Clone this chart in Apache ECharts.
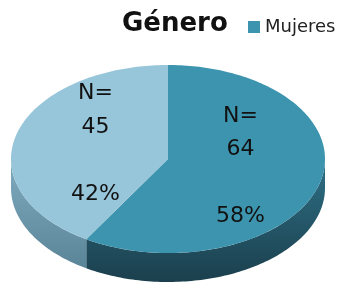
<!DOCTYPE html>
<html><head><meta charset="utf-8">
<script src="https://cdn.jsdelivr.net/npm/echarts@6/dist/echarts.min.js"></script>
<style>html,body{margin:0;padding:0;background:#fff}#c{width:342px;height:290px}</style>
</head><body><div id="c"></div>
<script>
const titleText = 'Género';
const categories = ['Mujeres', 'Hombres'];
const counts = [64, 45];
const percentLabels = ['58%', '42%'];
const legendItems = ['Mujeres'];

const topColors = ['#3d94ae', '#97c5d9'];
const sideColors = [['#2e7086', '#1b3f4d'], ['#80acc0', '#5a8498']];

const total = counts.reduce((a, b) => a + b, 0);
const CX = 168, CY = 159, RX = 157, RY = 94, DEPTH = 29;

function pt(t, dy) { return [CX + RX * Math.sin(t), CY - RY * Math.cos(t) + (dy || 0)]; }
function arc(a, b, dy) {
  const out = [], n = Math.max(2, Math.ceil((b - a) / 0.02));
  for (let k = 0; k <= n; k++) out.push(pt(a + (b - a) * k / n, dy));
  return out;
}

function makeRender(i) {
  return function (params, api) {
    let before = 0;
    for (let j = 0; j < i; j++) before += counts[j];
    const v = api.value(0);
    const a = before / total * Math.PI * 2;
    const b = (before + v) / total * Math.PI * 2;
    const children = [];
    const fa = Math.max(a, Math.PI / 2), fb = Math.min(b, Math.PI * 1.5);
    if (fb > fa) {
      const top = arc(fa, fb, 0);
      const bot = arc(fa, fb, DEPTH).reverse();
      children.push({
        type: 'polygon', shape: { points: top.concat(bot) },
        style: { fill: new echarts.graphic.LinearGradient(0, 0, 0, 1, [
          { offset: 0, color: sideColors[i][0] }, { offset: 1, color: sideColors[i][1] }]) }
      });
    }
    children.push({
      type: 'polygon', shape: { points: [[CX, CY]].concat(arc(a, b, 0)) },
      style: { fill: topColors[i] }
    });
    const m = (a + b) / 2;
    children.push({
      type: 'text',
      style: {
        text: 'N=\n' + v + '\n\n' + percentLabels[i],
        x: CX + RX * 0.48 * Math.sin(m), y: CY - 4 - RY * 0.45 * Math.cos(m),
        align: 'center', verticalAlign: 'middle',
        fontSize: 22, lineHeight: 33.5, fontFamily: 'DejaVu Sans', fill: '#111'
      }
    });
    return { type: 'group', children: children };
  };
}

const chart = echarts.init(document.getElementById('c'), null, { renderer: 'canvas' });
chart.setOption({
  animation: false,
  title: { text: titleText, left: 117, top: 6,
    textStyle: { fontFamily: 'DejaVu Sans', fontWeight: 'bold', fontSize: 26, color: '#111' } },
  legend: { data: legendItems, left: 243, top: 13, icon: 'rect', itemWidth: 12, itemHeight: 12, itemGap: 4,
    textStyle: { fontFamily: 'DejaVu Sans', fontSize: 18, color: '#222' } },
  series: categories.map((c, i) => ({
    type: 'custom', name: c, coordinateSystem: 'none',
    itemStyle: { color: topColors[i] },
    data: [[counts[i]]],
    renderItem: makeRender(i)
  }))
});
</script></body></html>
